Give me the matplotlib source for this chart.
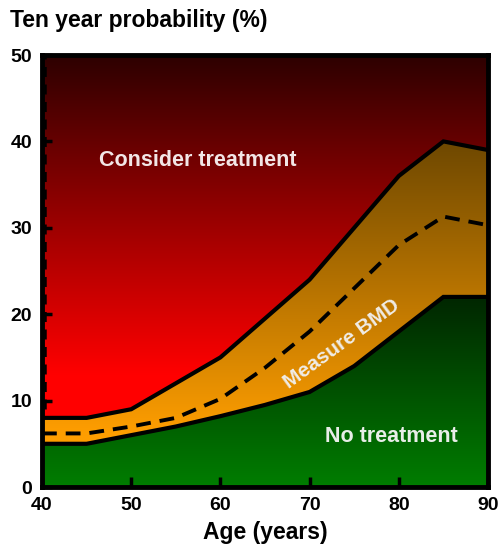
import numpy as np
import matplotlib
matplotlib.use("Agg")
import matplotlib.pyplot as plt
from matplotlib.patches import Polygon

# -------- data --------
AGE        = [40, 45, 50, 55, 60, 65, 70, 75, 80, 85, 90]
UPPER      = [8.0, 8.0, 9.0, 12.0, 15.0, 19.5, 24.0, 30.0, 36.0, 40.0, 39.0]   # intervention threshold
LOWER      = [5.0, 5.0, 6.0, 7.0, 8.2, 9.5, 11.0, 14.0, 18.0, 22.0, 22.0]     # assessment threshold
DASHED     = [6.2, 6.2, 7.0, 8.0, 10.2, 13.8, 18.0, 23.0, 28.0, 31.3, 30.3]

XTICKS = [40, 50, 60, 70, 80, 90]
YTICKS = [0, 10, 20, 30, 40, 50]

FONT = "Liberation Sans"
plt.rcParams["font.family"] = [FONT, "DejaVu Sans"]
plt.rcParams["font.weight"] = "bold"


def vgrad(c_bottom, c_top, y0, y1, n=256):
    # vertical colour ramp, rows from y=0 (bottom) to y=50 (top)
    ys = np.linspace(0, 50, n)
    t = np.clip((ys - y0) / (y1 - y0), 0, 1)[:, None]
    cb = np.array(c_bottom) / 255.0
    ct = np.array(c_top) / 255.0
    img = cb + (ct - cb) * t
    return img[:, None, :]


fig = plt.figure(figsize=(5.01, 5.50), dpi=100)
ax = fig.add_axes([42 / 501, 1 - 487 / 550, (488 - 42) / 501, (487 - 55) / 550])
ax.set_xlim(40, 90)
ax.set_ylim(0, 50)

age = np.array(AGE, float)
up = np.array(UPPER, float)
lo = np.array(LOWER, float)

# region polygons (data coords)
red_poly = Polygon(np.vstack([np.column_stack([age, up]), [[90, 50], [40, 50]]]),
                   closed=True, transform=ax.transData, facecolor="none", edgecolor="none")
org_poly = Polygon(np.vstack([np.column_stack([age, up]), np.column_stack([age[::-1], lo[::-1]])]),
                   closed=True, transform=ax.transData, facecolor="none", edgecolor="none")
grn_poly = Polygon(np.vstack([np.column_stack([age, lo]), [[90, 0], [40, 0]]]),
                   closed=True, transform=ax.transData, facecolor="none", edgecolor="none")
for p in (red_poly, org_poly, grn_poly):
    ax.add_patch(p)

ext = [40, 90, 0, 50]
im_r = ax.imshow(vgrad((255, 0, 0), (45, 0, 0), 13, 50), extent=ext, origin="lower",
                 aspect="auto", zorder=1, interpolation="bilinear")
im_r.set_clip_path(red_poly)
im_o = ax.imshow(vgrad((255, 158, 0), (110, 72, 0), 6, 40), extent=ext, origin="lower",
                 aspect="auto", zorder=1, interpolation="bilinear")
im_o.set_clip_path(org_poly)
im_g = ax.imshow(vgrad((0, 125, 0), (0, 38, 0), 0, 22), extent=ext, origin="lower",
                 aspect="auto", zorder=1, interpolation="bilinear")
im_g.set_clip_path(grn_poly)

# boundary lines
ax.plot(AGE, UPPER, color="black", lw=3.0, zorder=3, solid_joinstyle="miter")
ax.plot(AGE, LOWER, color="black", lw=3.0, zorder=3, solid_joinstyle="miter")
ax.plot(AGE, DASHED, color="black", lw=2.8, zorder=3, dashes=(3.8, 2.3))

# faint dashed edge along the left border
ax.plot([40.3, 40.3], [9, 50], color="black", lw=1.8, dashes=(4, 3), zorder=3)

# region labels
ax.text(57.5, 37.8, "Consider treatment", color="#f2e6e6", fontsize=15.5,
        fontweight="bold", ha="center", va="center", zorder=4)
ax.text(79.2, 5.8, "No treatment", color="#e8ede8", fontsize=15.5,
        fontweight="bold", ha="center", va="center", zorder=4)
ax.text(73.6, 16.6, "Measure BMD", color="#f0ece6", fontsize=15,
        fontweight="bold", ha="center", va="center", rotation=36, zorder=4)

# axes styling
ax.set_xticks(XTICKS)
ax.set_yticks(YTICKS)
ax.tick_params(direction="in", length=7, width=2.5, labelsize=14, pad=7,
               top=False, right=False)
for lab in ax.get_xticklabels() + ax.get_yticklabels():
    lab.set_fontweight("bold")
for s in ax.spines.values():
    s.set_linewidth(3.5)
    s.set_zorder(5)

ax.set_xlabel("Age (years)", fontsize=16.5, fontweight="bold", labelpad=5)
fig.text(10 / 501, 1 - 21 / 550, "Ten year probability (%)", fontsize=16.5,
         fontweight="bold", ha="left", va="center")

fig.savefig("out.png", dpi=100)
